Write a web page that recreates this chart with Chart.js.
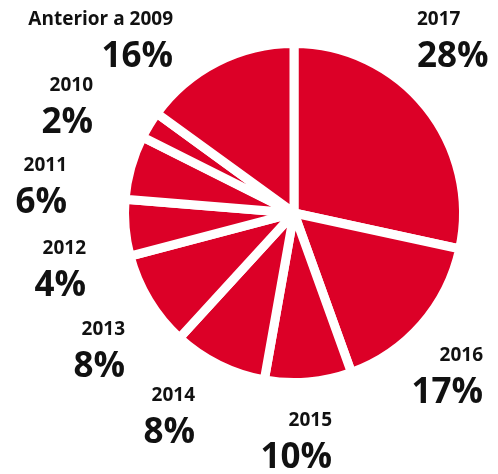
<!DOCTYPE html>
<html>
<head>
<meta charset="utf-8">
<script src="https://cdn.jsdelivr.net/npm/chart.js@4/dist/chart.umd.min.js"></script>
<style>
  html, body { margin: 0; padding: 0; background: #fff; }
  #wrap { width: 498px; height: 474px; }
</style>
</head>
<body>
<div id="wrap"><canvas id="pieChart" width="498" height="474"></canvas></div>
<script>
// DATA
let pieLabels = ["2017", "2016", "2015", "2014", "2013", "2012", "2011", "2010", "Anterior a 2009"];
// slice sizes as drawn in the picture (the printed percentages are below)
let pieValues = [28.4, 16.1, 8.3, 9.0, 9.1, 5.4, 6.1, 2.6, 15.0];
let pctLabels = ["28%", "17%", "10%", "8%", "8%", "4%", "6%", "2%", "16%"];

// label placement, px from pie centre (anchor = text edge, middle between the two lines)
let labelOffsets = [
    [123, -177], [189, 159], [38, 224], [-99, 199], [-169, 133],
    [-208, 52], [-227, -31], [-201, -111], [-121, -177]
];
let labelAlign = ["left", "right", "right", "right", "right", "right", "right", "right", "right"];

let redColor = '#dc0027';

// draws year + percentage next to each slice
const sliceLabels = {
    id: 'sliceLabels',
    afterDatasetsDraw(chart) {
        const ctx = chart.ctx;
        const arcs = chart.getDatasetMeta(0).data;
        ctx.save();
        ctx.fillStyle = '#111';
        arcs.forEach((arc, i) => {
            const p = arc.getProps(['x', 'y'], true);
            const ax = p.x + labelOffsets[i][0];
            const ay = p.y + labelOffsets[i][1];
            ctx.textAlign = labelAlign[i];
            ctx.textBaseline = 'alphabetic';
            ctx.font = 'bold 19px "Open Sans"';
            ctx.fillText(pieLabels[i], ax, ay - 11.5);
            ctx.font = 'bold 35px "Open Sans"';
            ctx.fillText(pctLabels[i], ax, ay + 31);
        });
        ctx.restore();
    }
};

let pieCtx = document.getElementById('pieChart').getContext('2d');
let pieChart = new Chart(pieCtx, {
    type: 'pie',
    data: {
        labels: pieLabels,
        datasets: [{
            data: pieValues,
            backgroundColor: redColor,
            borderColor: '#ffffff',
            borderWidth: 9
        }]
    },
    options: {
        responsive: false,
        animation: false,
        events: [],
        layout: { padding: { left: 120, right: 30, top: 39, bottom: 87 } },
        plugins: {
            legend: { display: false },
            tooltip: { enabled: false }
        }
    },
    plugins: [sliceLabels]
});
</script>
</body>
</html>
